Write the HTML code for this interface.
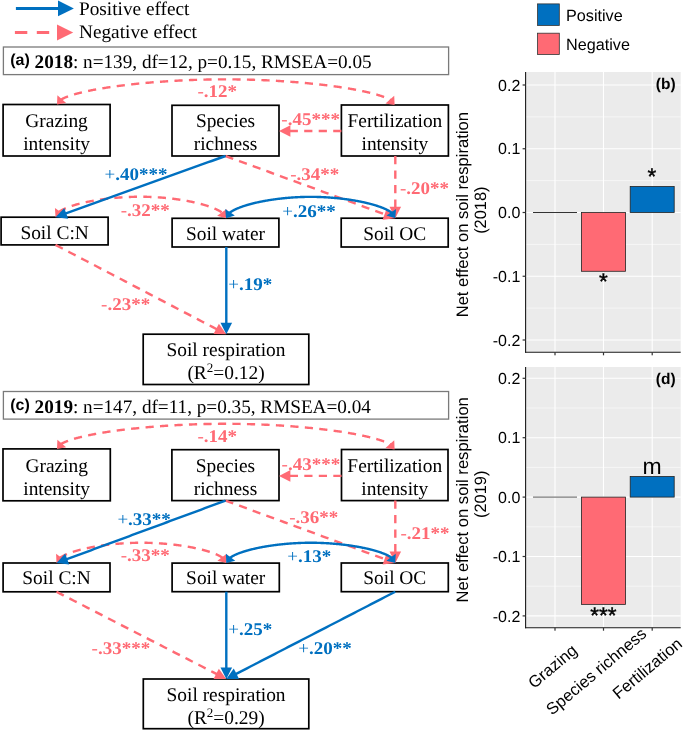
<!DOCTYPE html>
<html><head><meta charset="utf-8"><style>
html,body{margin:0;padding:0;background:#fff;}
svg{display:block;will-change:transform;} svg text{text-rendering:geometricPrecision;}

</style></head><body>
<svg width="685" height="730" viewBox="0 0 685 730">
<rect width="685" height="730" fill="#fff"/>
<line x1="15.9" y1="8.5" x2="59" y2="8.5" stroke="#0070C0" stroke-width="3.2"/>
<polygon points="73.9,8.4 58,0.5 58,16.3" fill="#0070C0"/>
<line x1="14.9" y1="32.55" x2="57.5" y2="32.55" stroke="#FF6A74" stroke-width="3.1" stroke-dasharray="12.4 9.5"/>
<polygon points="73.2,32.5 57,24.6 57,40.6" fill="#FF6A74"/>
<text x="79" y="14.6" font-family="Liberation Serif" font-size="19.3" fill="#000">Positive effect</text>
<text x="79" y="37.8" font-family="Liberation Serif" font-size="19.3" fill="#000">Negative effect</text>
<rect x="3.4" y="47" width="445.2" height="27.6" fill="#fff" stroke="#7a7a7a" stroke-width="1.3"/>
<text x="10.2" y="65" font-family="Liberation Sans" font-weight="bold" font-size="16" fill="#000">(a)</text>
<text x="34.6" y="67.6" font-family="Liberation Serif" font-size="19.2" fill="#000"><tspan font-weight="bold">2018</tspan>: n=139, df=12, p=0.15, RMSEA=0.05</text>
<rect x="3.1" y="104.5" width="107" height="51.5" fill="#fff" stroke="#000" stroke-width="1.7"/>
<rect x="172" y="105.3" width="107" height="50.7" fill="#fff" stroke="#000" stroke-width="1.7"/>
<rect x="341.4" y="105" width="107" height="51" fill="#fff" stroke="#000" stroke-width="1.7"/>
<rect x="1.1" y="217.2" width="107" height="27.7" fill="#fff" stroke="#000" stroke-width="1.7"/>
<rect x="172.1" y="218.3" width="106.8" height="28.7" fill="#fff" stroke="#000" stroke-width="1.7"/>
<rect x="341.2" y="218.2" width="107" height="28.8" fill="#fff" stroke="#000" stroke-width="1.7"/>
<rect x="143.2" y="334.2" width="165.6" height="50.3" fill="#fff" stroke="#000" stroke-width="1.7"/>
<path d="M60.63 99.87 L60.83 99.75 L61.13 99.56 L61.45 99.37 L61.78 99.19 L62.12 99 L62.47 98.82 L62.83 98.63 L63.2 98.44 L63.58 98.26 L63.97 98.07 L64.37 97.89 L64.79 97.7 L65.21 97.52 L65.64 97.34 L66.09 97.15 L66.54 96.97 L67.01 96.79 L67.49 96.61 L67.97 96.43 L68.47 96.24 L68.97 96.06 L69.49 95.88 L70.01 95.7 L70.55 95.52 L71.09 95.35 L71.65 95.17 L72.21 94.99 L72.78 94.81 L73.37 94.64 L73.96 94.46 L74.56 94.28 L75.17 94.11 L75.79 93.94 L76.42 93.76 L77.06 93.59 L77.7 93.42 L78.36 93.24 L79.03 93.07 L79.7 92.9 L80.38 92.73 L81.07 92.56 L81.77 92.39 L82.48 92.22 L83.2 92.06 L83.92 91.89 L84.66 91.72 L85.4 91.56 L86.15 91.39 L86.91 91.23 L87.67 91.06 L88.45 90.9 L89.23 90.74 L90.02 90.58 L90.82 90.42 L91.62 90.26 L92.44 90.1 L93.26 89.94 L94.09 89.78 L94.92 89.62 L95.77 89.47 L96.62 89.31 L97.48 89.16 L98.34 89.01 L99.21 88.85 L100.1 88.7 L100.98 88.55 L101.88 88.4 L102.78 88.25 L103.69 88.1 L104.6 87.96 L105.52 87.81 L106.45 87.66 L107.38 87.52 L108.33 87.38 L109.27 87.23 L110.23 87.09 L111.19 86.95 L112.16 86.81 L113.13 86.67 L114.11 86.53 L115.09 86.4 L116.08 86.26 L117.08 86.13 L118.09 85.99 L119.09 85.86 L120.11 85.73 L121.13 85.6 L122.16 85.47 L123.19 85.34 L124.23 85.21 L125.27 85.09 L126.32 84.96 L127.37 84.84 L128.43 84.72 L129.49 84.59 L130.56 84.47 L131.64 84.35 L132.72 84.24 L133.8 84.12 L134.89 84 L135.99 83.89 L137.08 83.77 L138.19 83.66 L139.3 83.55 L140.41 83.44 L141.53 83.33 L142.65 83.22 L143.77 83.12 L144.9 83.01 L146.04 82.91 L147.18 82.81 L148.32 82.71 L149.47 82.61 L150.62 82.51 L151.77 82.41 L152.93 82.32 L154.09 82.22 L155.26 82.13 L156.43 82.04 L157.6 81.95 L158.78 81.86 L159.96 81.77 L161.14 81.68 L162.33 81.6 L163.52 81.51 L164.71 81.43 L165.91 81.35 L167.11 81.27 L168.31 81.2 L169.52 81.12 L170.73 81.04 L171.94 80.97 L173.15 80.9 L174.37 80.83 L175.59 80.76 L176.81 80.69 L178.04 80.63 L179.27 80.56 L180.49 80.5 L181.73 80.44 L182.96 80.38 L184.2 80.32 L185.44 80.27 L186.68 80.21 L187.92 80.16 L189.16 80.11 L190.41 80.06 L191.66 80.01 L192.91 79.96 L194.16 79.92 L195.41 79.87 L196.67 79.83 L197.92 79.79 L199.18 79.75 L200.44 79.71 L201.7 79.68 L202.96 79.65 L204.22 79.61 L205.49 79.59 L206.75 79.56 L208.02 79.53 L209.28 79.51 L210.55 79.48 L211.82 79.46 L213.09 79.44 L214.36 79.43 L215.63 79.41 L216.9 79.4 L218.17 79.38 L219.44 79.37 L220.71 79.36 L221.98 79.36 L223.26 79.35 L224.53 79.35 L225.8 79.35 L227.07 79.35 L228.34 79.35 L229.62 79.36 L230.89 79.37 L232.16 79.37 L233.43 79.38 L234.7 79.4 L235.97 79.41 L237.24 79.43 L238.51 79.45 L239.78 79.47 L241.05 79.49 L242.32 79.51 L243.58 79.54 L244.85 79.57 L246.11 79.59 L247.38 79.63 L248.64 79.66 L249.9 79.69 L251.16 79.73 L252.42 79.77 L253.68 79.81 L254.93 79.85 L256.19 79.89 L257.44 79.94 L258.69 79.98 L259.94 80.03 L261.19 80.08 L262.44 80.13 L263.68 80.19 L264.92 80.24 L266.16 80.3 L267.4 80.36 L268.64 80.42 L269.87 80.48 L271.11 80.54 L272.33 80.61 L273.56 80.67 L274.79 80.74 L276.01 80.81 L277.23 80.88 L278.45 80.96 L279.66 81.03 L280.87 81.11 L282.08 81.18 L283.29 81.26 L284.49 81.34 L285.69 81.43 L286.89 81.51 L288.08 81.59 L289.27 81.68 L290.46 81.77 L291.64 81.86 L292.82 81.95 L294 82.04 L295.17 82.13 L296.34 82.23 L297.51 82.32 L298.67 82.42 L299.83 82.52 L300.98 82.62 L302.13 82.72 L303.28 82.82 L304.42 82.93 L305.56 83.03 L306.7 83.14 L307.83 83.25 L308.95 83.36 L310.07 83.47 L311.19 83.58 L312.3 83.7 L313.41 83.81 L314.52 83.93 L315.61 84.04 L316.71 84.16 L317.8 84.28 L318.88 84.4 L319.96 84.52 L321.04 84.65 L322.11 84.77 L323.17 84.9 L324.23 85.02 L325.28 85.15 L326.33 85.28 L327.37 85.41 L328.41 85.54 L329.44 85.67 L330.47 85.81 L331.49 85.94 L332.51 86.08 L333.51 86.21 L334.52 86.35 L335.52 86.49 L336.51 86.63 L337.49 86.77 L338.47 86.91 L339.44 87.05 L340.41 87.2 L341.37 87.34 L342.33 87.49 L343.27 87.63 L344.22 87.78 L345.15 87.93 L346.08 88.08 L347 88.23 L347.91 88.38 L348.82 88.53 L349.72 88.68 L350.62 88.84 L351.5 88.99 L352.39 89.15 L353.26 89.3 L354.12 89.46 L354.98 89.62 L355.83 89.78 L356.68 89.94 L357.51 90.1 L358.34 90.26 L359.16 90.42 L359.98 90.58 L360.78 90.75 L361.58 90.91 L362.37 91.08 L363.15 91.24 L363.93 91.41 L364.69 91.57 L365.45 91.74 L366.2 91.91 L366.94 92.08 L367.68 92.25 L368.4 92.42 L369.12 92.59 L369.83 92.76 L370.53 92.94 L371.22 93.11 L371.9 93.28 L372.57 93.46 L373.24 93.63 L373.9 93.81 L374.54 93.98 L375.18 94.16 L375.81 94.34 L376.43 94.51 L377.04 94.69 L377.64 94.87 L378.23 95.05 L378.82 95.23 L379.39 95.41 L379.95 95.59 L380.51 95.77 L381.05 95.95 L381.59 96.13 L382.11 96.32 L382.63 96.5 L383.13 96.68 L383.63 96.87 L384.11 97.05 L384.59 97.23 L385.06 97.42 L385.51 97.6 L385.96 97.79 L386.39 97.97 L386.81 98.16 L387.23 98.35 L387.63 98.53 L388.02 98.72 L388.4 98.91 L388.77 99.1 L389.13 99.28 L389.48 99.47 L389.82 99.66 L390.15 99.85 L390.47 100.04 L390.77 100.23 L390.98 100.36" fill="none" stroke="#FF6A74" stroke-width="2.4" stroke-dasharray="8.2 6.3" stroke-dashoffset="0"/>
<polygon points="394.6,105 385.5,103.39 394.23,95.76" fill="#FF6A74"/>
<polygon points="57,104.5 57.4,95.26 66.11,102.92" fill="#FF6A74"/>
<path d="M341.4 131 L340.13 131 L338.85 131 L337.58 131 L336.31 131 L335.03 131 L333.76 131 L332.49 131 L331.21 131 L329.94 131 L328.67 131 L327.39 131 L326.12 131 L324.84 131 L323.57 131 L322.3 131 L321.02 131 L319.75 131 L318.48 131 L317.2 131 L315.93 131 L314.66 131 L313.38 131 L312.11 131 L310.84 131 L309.56 131 L308.29 131 L307.02 131 L305.74 131 L304.47 131 L303.2 131 L301.92 131 L300.65 131 L299.38 131 L298.1 131 L296.83 131 L295.56 131 L294.28 131 L293.01 131 L291.73 131 L290.46 131 L289.19 131 L288.69 131" fill="none" stroke="#FF6A74" stroke-width="2.4" stroke-dasharray="8.2 6.3" stroke-dashoffset="0"/>
<polygon points="279,131 290.4,125.2 290.4,136.8" fill="#FF6A74"/>
<path d="M225.5 156 L228.97 157.27 L232.43 158.54 L235.9 159.81 L239.36 161.08 L242.83 162.35 L246.29 163.62 L249.76 164.89 L253.22 166.16 L256.69 167.42 L260.15 168.69 L263.62 169.96 L267.08 171.23 L270.55 172.5 L274.01 173.77 L277.48 175.04 L280.94 176.31 L284.41 177.58 L287.88 178.85 L291.34 180.12 L294.81 181.39 L298.27 182.66 L301.74 183.93 L305.2 185.2 L308.67 186.47 L312.13 187.73 L315.6 189 L319.06 190.27 L322.53 191.54 L325.99 192.81 L329.46 194.08 L332.92 195.35 L336.39 196.62 L339.86 197.89 L343.32 199.16 L346.79 200.43 L350.25 201.7 L353.72 202.97 L357.18 204.24 L360.65 205.51 L364.11 206.78 L367.58 208.04 L371.04 209.31 L374.51 210.58 L377.97 211.85 L381.44 213.12 L384.9 214.39 L386.2 214.87" fill="none" stroke="#FF6A74" stroke-width="2.4" stroke-dasharray="8.2 6.3" stroke-dashoffset="0"/>
<polygon points="395.3,218.2 382.6,219.72 386.59,208.83" fill="#FF6A74"/>
<path d="M395.3 156 L395.3 157.27 L395.3 158.54 L395.3 159.81 L395.3 161.08 L395.3 162.35 L395.3 163.62 L395.3 164.89 L395.3 166.16 L395.3 167.42 L395.3 168.69 L395.3 169.96 L395.3 171.23 L395.3 172.5 L395.3 173.77 L395.3 175.04 L395.3 176.31 L395.3 177.58 L395.3 178.85 L395.3 180.12 L395.3 181.39 L395.3 182.66 L395.3 183.93 L395.3 185.2 L395.3 186.47 L395.3 187.73 L395.3 189 L395.3 190.27 L395.3 191.54 L395.3 192.81 L395.3 194.08 L395.3 195.35 L395.3 196.62 L395.3 197.89 L395.3 199.16 L395.3 200.43 L395.3 201.7 L395.3 202.97 L395.3 204.24 L395.3 205.51 L395.3 206.78 L395.3 208.04 L395.3 208.51" fill="none" stroke="#FF6A74" stroke-width="2.4" stroke-dasharray="8.2 6.3" stroke-dashoffset="0"/>
<polygon points="395.3,218.2 389.5,206.8 401.1,206.8" fill="#FF6A74"/>
<path d="M58.66 212.19 L58.82 212.06 L59.02 211.91 L59.22 211.76 L59.43 211.61 L59.65 211.46 L59.87 211.31 L60.09 211.16 L60.32 211.01 L60.56 210.86 L60.8 210.71 L61.04 210.57 L61.29 210.42 L61.55 210.27 L61.81 210.12 L62.07 209.98 L62.34 209.83 L62.62 209.68 L62.9 209.54 L63.18 209.39 L63.47 209.25 L63.77 209.11 L64.06 208.96 L64.37 208.82 L64.68 208.68 L64.99 208.53 L65.31 208.39 L65.63 208.25 L65.96 208.11 L66.29 207.97 L66.62 207.83 L66.96 207.69 L67.31 207.55 L67.66 207.41 L68.01 207.28 L68.37 207.14 L68.73 207 L69.1 206.87 L69.47 206.73 L69.84 206.6 L70.22 206.46 L70.6 206.33 L70.99 206.2 L71.38 206.07 L71.78 205.93 L72.18 205.8 L72.58 205.67 L72.99 205.54 L73.4 205.41 L73.81 205.29 L74.23 205.16 L74.65 205.03 L75.08 204.9 L75.51 204.78 L75.94 204.65 L76.38 204.53 L76.82 204.41 L77.26 204.28 L77.71 204.16 L78.16 204.04 L78.62 203.92 L79.08 203.8 L79.54 203.68 L80.01 203.56 L80.47 203.44 L80.95 203.33 L81.42 203.21 L81.9 203.09 L82.38 202.98 L82.87 202.87 L83.36 202.75 L83.85 202.64 L84.34 202.53 L84.84 202.42 L85.34 202.31 L85.84 202.2 L86.35 202.09 L86.86 201.99 L87.37 201.88 L87.89 201.77 L88.41 201.67 L88.93 201.57 L89.45 201.46 L89.98 201.36 L90.51 201.26 L91.04 201.16 L91.57 201.06 L92.11 200.96 L92.65 200.87 L93.19 200.77 L93.74 200.67 L94.29 200.58 L94.84 200.49 L95.39 200.39 L95.95 200.3 L96.5 200.21 L97.06 200.12 L97.62 200.03 L98.19 199.95 L98.75 199.86 L99.32 199.77 L99.89 199.69 L100.47 199.61 L101.04 199.52 L101.62 199.44 L102.2 199.36 L102.78 199.28 L103.36 199.21 L103.95 199.13 L104.54 199.05 L105.12 198.98 L105.71 198.9 L106.31 198.83 L106.9 198.76 L107.5 198.69 L108.1 198.62 L108.7 198.55 L109.3 198.49 L109.9 198.42 L110.5 198.35 L111.11 198.29 L111.72 198.23 L112.33 198.17 L112.94 198.11 L113.55 198.05 L114.16 197.99 L114.78 197.93 L115.39 197.88 L116.01 197.83 L116.63 197.77 L117.25 197.72 L117.87 197.67 L118.49 197.62 L119.11 197.57 L119.74 197.53 L120.36 197.48 L120.99 197.44 L121.62 197.4 L122.25 197.35 L122.88 197.31 L123.51 197.28 L124.14 197.24 L124.77 197.2 L125.4 197.17 L126.04 197.13 L126.67 197.1 L127.31 197.07 L127.94 197.04 L128.58 197.01 L129.21 196.99 L129.85 196.96 L130.49 196.94 L131.13 196.92 L131.77 196.89 L132.41 196.87 L133.05 196.86 L133.69 196.84 L134.33 196.82 L134.97 196.81 L135.61 196.8 L136.25 196.79 L136.9 196.78 L137.54 196.77 L138.18 196.76 L138.82 196.76 L139.46 196.75 L140.11 196.75 L140.75 196.75 L141.39 196.75 L142.04 196.75 L142.68 196.76 L143.32 196.76 L143.96 196.77 L144.6 196.78 L145.25 196.79 L145.89 196.8 L146.53 196.82 L147.17 196.83 L147.81 196.85 L148.45 196.87 L149.09 196.89 L149.73 196.91 L150.37 196.93 L151.01 196.96 L151.65 196.98 L152.29 197.01 L152.92 197.04 L153.56 197.07 L154.19 197.11 L154.83 197.14 L155.46 197.17 L156.1 197.21 L156.73 197.25 L157.36 197.29 L157.99 197.33 L158.62 197.37 L159.25 197.42 L159.88 197.46 L160.51 197.51 L161.14 197.56 L161.76 197.61 L162.39 197.66 L163.01 197.71 L163.63 197.77 L164.25 197.82 L164.87 197.88 L165.49 197.94 L166.11 198 L166.72 198.06 L167.34 198.12 L167.95 198.18 L168.56 198.25 L169.17 198.31 L169.78 198.38 L170.39 198.45 L171 198.52 L171.6 198.59 L172.2 198.66 L172.8 198.73 L173.4 198.81 L174 198.88 L174.6 198.96 L175.19 199.04 L175.79 199.12 L176.38 199.2 L176.96 199.28 L177.55 199.36 L178.14 199.45 L178.72 199.53 L179.3 199.62 L179.88 199.7 L180.46 199.79 L181.03 199.88 L181.61 199.97 L182.18 200.07 L182.75 200.16 L183.31 200.25 L183.88 200.35 L184.44 200.44 L185 200.54 L185.55 200.64 L186.11 200.74 L186.66 200.84 L187.21 200.94 L187.76 201.04 L188.31 201.14 L188.85 201.25 L189.39 201.35 L189.93 201.46 L190.46 201.57 L190.99 201.68 L191.52 201.78 L192.05 201.89 L192.57 202 L193.09 202.12 L193.61 202.23 L194.13 202.34 L194.64 202.46 L195.15 202.57 L195.66 202.69 L196.16 202.81 L196.66 202.92 L197.16 203.04 L197.65 203.16 L198.14 203.28 L198.63 203.4 L199.12 203.53 L199.6 203.65 L200.08 203.77 L200.55 203.9 L201.03 204.02 L201.49 204.15 L201.96 204.28 L202.42 204.4 L202.88 204.53 L203.34 204.66 L203.79 204.79 L204.24 204.92 L204.68 205.05 L205.12 205.18 L205.56 205.32 L205.99 205.45 L206.42 205.58 L206.85 205.72 L207.27 205.85 L207.69 205.99 L208.1 206.12 L208.51 206.26 L208.92 206.4 L209.32 206.54 L209.72 206.68 L210.12 206.81 L210.51 206.95 L210.9 207.1 L211.28 207.24 L211.66 207.38 L212.03 207.52 L212.4 207.66 L212.77 207.81 L213.13 207.95 L213.49 208.09 L213.84 208.24 L214.19 208.38 L214.54 208.53 L214.88 208.68 L215.21 208.82 L215.54 208.97 L215.87 209.12 L216.19 209.27 L216.51 209.41 L216.82 209.56 L217.13 209.71 L217.44 209.86 L217.73 210.01 L218.03 210.16 L218.32 210.31 L218.6 210.47 L218.88 210.62 L219.16 210.77 L219.43 210.92 L219.69 211.07 L219.95 211.23 L220.21 211.38 L220.46 211.53 L220.7 211.69 L220.94 211.84 L221.18 212 L221.41 212.15 L221.63 212.31 L221.85 212.46 L222.07 212.62 L222.28 212.77 L222.48 212.93 L222.68 213.08 L222.87 213.24 L222.89 213.25" fill="none" stroke="#FF6A74" stroke-width="2.4" stroke-dasharray="8.2 6.3" stroke-dashoffset="0"/>
<polygon points="226,218.3 217.13,215.7 226.66,209.08" fill="#FF6A74"/>
<polygon points="55.5,217.2 54.95,207.97 64.4,214.7" fill="#FF6A74"/>
<path d="M229.06 213.22 L229.11 213.18 L229.3 213.02 L229.5 212.87 L229.7 212.71 L229.9 212.55 L230.12 212.4 L230.34 212.24 L230.56 212.08 L230.79 211.93 L231.02 211.77 L231.26 211.62 L231.5 211.47 L231.75 211.31 L232 211.16 L232.26 211.01 L232.53 210.85 L232.79 210.7 L233.07 210.55 L233.34 210.4 L233.63 210.25 L233.91 210.09 L234.21 209.94 L234.5 209.79 L234.81 209.64 L235.11 209.5 L235.42 209.35 L235.74 209.2 L236.06 209.05 L236.38 208.9 L236.71 208.76 L237.05 208.61 L237.38 208.47 L237.73 208.32 L238.07 208.18 L238.42 208.03 L238.78 207.89 L239.14 207.74 L239.5 207.6 L239.87 207.46 L240.24 207.32 L240.62 207.18 L241 207.04 L241.38 206.9 L241.77 206.76 L242.16 206.62 L242.56 206.48 L242.96 206.35 L243.36 206.21 L243.77 206.07 L244.18 205.94 L244.6 205.8 L245.02 205.67 L245.44 205.54 L245.87 205.4 L246.3 205.27 L246.73 205.14 L247.17 205.01 L247.61 204.88 L248.06 204.75 L248.5 204.62 L248.96 204.49 L249.41 204.37 L249.87 204.24 L250.33 204.12 L250.8 203.99 L251.27 203.87 L251.74 203.75 L252.21 203.62 L252.69 203.5 L253.17 203.38 L253.66 203.26 L254.15 203.14 L254.64 203.02 L255.13 202.91 L255.63 202.79 L256.13 202.68 L256.63 202.56 L257.14 202.45 L257.65 202.33 L258.16 202.22 L258.67 202.11 L259.19 202 L259.71 201.89 L260.24 201.78 L260.76 201.68 L261.29 201.57 L261.82 201.46 L262.35 201.36 L262.89 201.26 L263.43 201.15 L263.97 201.05 L264.51 200.95 L265.06 200.85 L265.61 200.75 L266.16 200.66 L266.71 200.56 L267.27 200.46 L267.83 200.37 L268.39 200.28 L268.95 200.18 L269.51 200.09 L270.08 200 L270.65 199.91 L271.22 199.83 L271.79 199.74 L272.37 199.65 L272.95 199.57 L273.53 199.49 L274.11 199.4 L274.69 199.32 L275.27 199.24 L275.86 199.16 L276.45 199.09 L277.04 199.01 L277.63 198.93 L278.23 198.86 L278.82 198.79 L279.42 198.71 L280.02 198.64 L280.62 198.57 L281.22 198.51 L281.82 198.44 L282.43 198.37 L283.03 198.31 L283.64 198.25 L284.25 198.19 L284.86 198.12 L285.47 198.07 L286.08 198.01 L286.7 197.95 L287.31 197.9 L287.93 197.84 L288.55 197.79 L289.17 197.74 L289.79 197.69 L290.41 197.64 L291.03 197.59 L291.65 197.55 L292.28 197.5 L292.9 197.46 L293.53 197.42 L294.15 197.38 L294.78 197.34 L295.41 197.3 L296.04 197.26 L296.67 197.23 L297.3 197.2 L297.93 197.16 L298.56 197.13 L299.2 197.11 L299.83 197.08 L300.46 197.05 L301.1 197.03 L301.73 197.01 L302.37 196.98 L303 196.96 L303.64 196.95 L304.27 196.93 L304.91 196.91 L305.55 196.9 L306.19 196.89 L306.82 196.88 L307.46 196.87 L308.1 196.86 L308.74 196.86 L309.37 196.85 L310.01 196.85 L310.65 196.85 L311.29 196.85 L311.93 196.85 L312.56 196.86 L313.2 196.86 L313.84 196.87 L314.48 196.88 L315.11 196.89 L315.75 196.9 L316.39 196.91 L317.03 196.93 L317.66 196.95 L318.3 196.96 L318.93 196.98 L319.57 197 L320.2 197.03 L320.84 197.05 L321.47 197.08 L322.1 197.1 L322.74 197.13 L323.37 197.16 L324 197.19 L324.63 197.23 L325.26 197.26 L325.89 197.3 L326.52 197.33 L327.15 197.37 L327.77 197.41 L328.4 197.45 L329.02 197.5 L329.65 197.54 L330.27 197.59 L330.89 197.63 L331.51 197.68 L332.13 197.73 L332.75 197.78 L333.37 197.83 L333.99 197.89 L334.6 197.94 L335.22 198 L335.83 198.05 L336.44 198.11 L337.05 198.17 L337.66 198.23 L338.27 198.3 L338.87 198.36 L339.48 198.43 L340.08 198.49 L340.68 198.56 L341.28 198.63 L341.88 198.7 L342.48 198.77 L343.07 198.84 L343.67 198.92 L344.26 198.99 L344.85 199.07 L345.44 199.14 L346.03 199.22 L346.61 199.3 L347.19 199.38 L347.77 199.46 L348.35 199.55 L348.93 199.63 L349.51 199.72 L350.08 199.8 L350.65 199.89 L351.22 199.98 L351.79 200.07 L352.35 200.16 L352.91 200.25 L353.47 200.34 L354.03 200.44 L354.59 200.53 L355.14 200.63 L355.69 200.72 L356.24 200.82 L356.79 200.92 L357.33 201.02 L357.87 201.12 L358.41 201.22 L358.95 201.32 L359.48 201.43 L360.01 201.53 L360.54 201.64 L361.06 201.75 L361.59 201.85 L362.11 201.96 L362.63 202.07 L363.14 202.18 L363.65 202.29 L364.16 202.4 L364.67 202.52 L365.17 202.63 L365.67 202.75 L366.17 202.86 L366.66 202.98 L367.15 203.1 L367.64 203.21 L368.13 203.33 L368.61 203.45 L369.09 203.57 L369.56 203.69 L370.03 203.82 L370.5 203.94 L370.97 204.06 L371.43 204.19 L371.89 204.31 L372.34 204.44 L372.8 204.57 L373.24 204.69 L373.69 204.82 L374.13 204.95 L374.57 205.08 L375 205.21 L375.43 205.34 L375.86 205.47 L376.28 205.61 L376.7 205.74 L377.12 205.87 L377.53 206.01 L377.94 206.14 L378.34 206.28 L378.74 206.42 L379.14 206.55 L379.53 206.69 L379.92 206.83 L380.3 206.97 L380.68 207.11 L381.06 207.25 L381.43 207.39 L381.8 207.53 L382.16 207.67 L382.52 207.81 L382.88 207.96 L383.23 208.1 L383.57 208.24 L383.92 208.39 L384.25 208.53 L384.59 208.68 L384.92 208.83 L385.24 208.97 L385.56 209.12 L385.88 209.27 L386.19 209.41 L386.49 209.56 L386.8 209.71 L387.09 209.86 L387.39 210.01 L387.67 210.16 L387.96 210.31 L388.23 210.46 L388.51 210.61 L388.77 210.77 L389.04 210.92 L389.3 211.07 L389.55 211.22 L389.8 211.38 L390.04 211.53 L390.28 211.69 L390.51 211.84 L390.74 211.99 L390.96 212.15 L391.18 212.3 L391.4 212.46 L391.6 212.62 L391.8 212.77 L392 212.93 L392.19 213.09 L392.24 213.12" fill="none" stroke="#0070C0" stroke-width="2.4"/>
<polygon points="395.3,218.2 386.45,215.51 396.04,208.98" fill="#0070C0"/>
<polygon points="226,218.3 225.25,209.08 234.84,215.6" fill="#0070C0"/>
<path d="M225.5 156 L222.03 157.25 L218.56 158.5 L215.09 159.75 L211.62 161 L208.15 162.24 L204.68 163.49 L201.21 164.74 L197.74 165.99 L194.28 167.24 L190.81 168.49 L187.34 169.74 L183.87 170.99 L180.4 172.24 L176.93 173.49 L173.46 174.73 L169.99 175.98 L166.52 177.23 L163.05 178.48 L159.58 179.73 L156.11 180.98 L152.64 182.23 L149.17 183.48 L145.7 184.73 L142.23 185.98 L138.77 187.22 L135.3 188.47 L131.83 189.72 L128.36 190.97 L124.89 192.22 L121.42 193.47 L117.95 194.72 L114.48 195.97 L111.01 197.22 L107.54 198.47 L104.07 199.71 L100.6 200.96 L97.13 202.21 L93.66 203.46 L90.19 204.71 L86.72 205.96 L83.26 207.21 L79.79 208.46 L76.32 209.71 L72.85 210.96 L69.38 212.2 L65.91 213.45 L64.62 213.92" fill="none" stroke="#0070C0" stroke-width="2.4"/>
<polygon points="55.5,217.2 64.26,207.88 68.19,218.8" fill="#0070C0"/>
<path d="M55.5 244.9 L58.99 246.72 L62.47 248.54 L65.96 250.37 L69.44 252.19 L72.93 254.01 L76.41 255.83 L79.9 257.66 L83.39 259.48 L86.87 261.3 L90.36 263.12 L93.84 264.95 L97.33 266.77 L100.81 268.59 L104.3 270.41 L107.79 272.24 L111.27 274.06 L114.76 275.88 L118.24 277.7 L121.73 279.53 L125.21 281.35 L128.7 283.17 L132.19 284.99 L135.67 286.82 L139.16 288.64 L142.64 290.46 L146.13 292.28 L149.61 294.11 L153.1 295.93 L156.59 297.75 L160.07 299.57 L163.56 301.4 L167.04 303.22 L170.53 305.04 L174.01 306.86 L177.5 308.69 L180.99 310.51 L184.47 312.33 L187.96 314.15 L191.44 315.98 L194.93 317.8 L198.41 319.62 L201.9 321.44 L205.39 323.27 L208.87 325.09 L212.36 326.91 L215.84 328.73 L217.71 329.71" fill="none" stroke="#FF6A74" stroke-width="2.4" stroke-dasharray="8.2 6.3" stroke-dashoffset="0"/>
<polygon points="226.3,334.2 213.51,334.06 218.88,323.78" fill="#FF6A74"/>
<path d="M226.3 247 L226.3 248.78 L226.3 250.56 L226.3 252.34 L226.3 254.12 L226.3 255.9 L226.3 257.68 L226.3 259.46 L226.3 261.24 L226.3 263.02 L226.3 264.8 L226.3 266.58 L226.3 268.36 L226.3 270.13 L226.3 271.91 L226.3 273.69 L226.3 275.47 L226.3 277.25 L226.3 279.03 L226.3 280.81 L226.3 282.59 L226.3 284.37 L226.3 286.15 L226.3 287.93 L226.3 289.71 L226.3 291.49 L226.3 293.27 L226.3 295.05 L226.3 296.83 L226.3 298.61 L226.3 300.39 L226.3 302.17 L226.3 303.95 L226.3 305.73 L226.3 307.51 L226.3 309.29 L226.3 311.07 L226.3 312.84 L226.3 314.62 L226.3 316.4 L226.3 318.18 L226.3 319.96 L226.3 321.74 L226.3 323.52 L226.3 324.51" fill="none" stroke="#0070C0" stroke-width="2.4"/>
<polygon points="226.3,334.2 220.5,322.8 232.1,322.8" fill="#0070C0"/>
<text x="56.6" y="126.7" font-family="Liberation Serif" font-size="19.4" text-anchor="middle" fill="#000">Grazing</text>
<text x="56.6" y="149.6" font-family="Liberation Serif" font-size="19.4" text-anchor="middle" fill="#000">intensity</text>
<text x="225.5" y="126.7" font-family="Liberation Serif" font-size="19.4" text-anchor="middle" fill="#000">Species</text>
<text x="225.5" y="149.6" font-family="Liberation Serif" font-size="19.4" text-anchor="middle" fill="#000">richness</text>
<text x="394.9" y="126.7" font-family="Liberation Serif" font-size="19.4" text-anchor="middle" fill="#000">Fertilization</text>
<text x="394.9" y="149.6" font-family="Liberation Serif" font-size="19.4" text-anchor="middle" fill="#000">intensity</text>
<text x="54.6" y="238.5" font-family="Liberation Serif" font-size="19.4" text-anchor="middle" fill="#000">Soil C:N</text>
<text x="225.5" y="239.5" font-family="Liberation Serif" font-size="19.4" text-anchor="middle" fill="#000">Soil water</text>
<text x="394.7" y="239.5" font-family="Liberation Serif" font-size="19.4" text-anchor="middle" fill="#000">Soil OC</text>
<text x="226" y="355.7" font-family="Liberation Serif" font-size="19.4" text-anchor="middle" fill="#000">Soil respiration</text>
<text x="226" y="379" font-family="Liberation Serif" font-size="19.4" text-anchor="middle" fill="#000">(R<tspan font-size="13" dy="-7">2</tspan><tspan dy="7">=0.12)</tspan></text>
<text transform="translate(197.4 97) scale(1 0.94)" font-family="Liberation Serif" font-size="19.0" fill="#FF6A74">-<tspan font-weight="bold">.12*</tspan></text>
<text transform="translate(281.3 124.9) scale(1 0.94)" font-family="Liberation Serif" font-size="19.0" fill="#FF6A74">-<tspan font-weight="bold">.45***</tspan></text>
<text transform="translate(104.6 179.9) scale(1 0.94)" font-family="Liberation Serif" font-size="19.0" fill="#0070C0">+<tspan font-weight="bold">.40***</tspan></text>
<text transform="translate(290.2 179.9) scale(1 0.94)" font-family="Liberation Serif" font-size="19.0" fill="#FF6A74">-<tspan font-weight="bold">.34**</tspan></text>
<text transform="translate(399.9 194) scale(1 0.94)" font-family="Liberation Serif" font-size="19.0" fill="#FF6A74">-<tspan font-weight="bold">.20**</tspan></text>
<text transform="translate(120.7 215.9) scale(1 0.94)" font-family="Liberation Serif" font-size="19.0" fill="#FF6A74">-<tspan font-weight="bold">.32**</tspan></text>
<text transform="translate(282.2 217) scale(1 0.94)" font-family="Liberation Serif" font-size="19.0" fill="#0070C0">+<tspan font-weight="bold">.26**</tspan></text>
<text transform="translate(101.1 309.5) scale(1 0.94)" font-family="Liberation Serif" font-size="19.0" fill="#FF6A74">-<tspan font-weight="bold">.23**</tspan></text>
<text transform="translate(228.2 289.9) scale(1 0.94)" font-family="Liberation Serif" font-size="19.0" fill="#0070C0">+<tspan font-weight="bold">.19*</tspan></text>
<rect x="3.4" y="391.5" width="445.2" height="27.6" fill="#fff" stroke="#7a7a7a" stroke-width="1.3"/>
<text x="10.2" y="410.2" font-family="Liberation Sans" font-weight="bold" font-size="16" fill="#000">(c)</text>
<text x="34.6" y="412.8" font-family="Liberation Serif" font-size="19.2" fill="#000"><tspan font-weight="bold">2019</tspan>: n=147, df=11, p=0.35, RMSEA=0.04</text>
<rect x="3" y="448.9" width="107.3" height="51.9" fill="#fff" stroke="#000" stroke-width="1.7"/>
<rect x="171.9" y="449.7" width="107.1" height="50.9" fill="#fff" stroke="#000" stroke-width="1.7"/>
<rect x="341.5" y="449.5" width="106.5" height="51.1" fill="#fff" stroke="#000" stroke-width="1.7"/>
<rect x="3.1" y="563" width="106.9" height="28.8" fill="#fff" stroke="#000" stroke-width="1.7"/>
<rect x="172.1" y="563.1" width="107.2" height="28.6" fill="#fff" stroke="#000" stroke-width="1.7"/>
<rect x="341.3" y="563" width="107" height="28.7" fill="#fff" stroke="#000" stroke-width="1.7"/>
<rect x="143.3" y="679" width="165.5" height="49.7" fill="#fff" stroke="#000" stroke-width="1.7"/>
<path d="M60.64 444.27 L60.83 444.15 L61.13 443.96 L61.45 443.78 L61.78 443.59 L62.12 443.4 L62.47 443.22 L62.83 443.03 L63.2 442.85 L63.58 442.66 L63.97 442.48 L64.37 442.29 L64.79 442.11 L65.21 441.92 L65.64 441.74 L66.09 441.56 L66.54 441.38 L67.01 441.19 L67.49 441.01 L67.97 440.83 L68.47 440.65 L68.97 440.47 L69.49 440.29 L70.01 440.11 L70.55 439.93 L71.09 439.75 L71.65 439.58 L72.21 439.4 L72.78 439.22 L73.37 439.05 L73.96 438.87 L74.56 438.69 L75.17 438.52 L75.79 438.35 L76.42 438.17 L77.06 438 L77.7 437.83 L78.36 437.65 L79.03 437.48 L79.7 437.31 L80.38 437.14 L81.07 436.97 L81.77 436.8 L82.48 436.64 L83.2 436.47 L83.92 436.3 L84.66 436.14 L85.4 435.97 L86.15 435.81 L86.91 435.64 L87.67 435.48 L88.45 435.32 L89.23 435.15 L90.02 434.99 L90.82 434.83 L91.62 434.67 L92.44 434.52 L93.26 434.36 L94.09 434.2 L94.92 434.04 L95.77 433.89 L96.62 433.73 L97.48 433.58 L98.34 433.43 L99.21 433.27 L100.1 433.12 L100.98 432.97 L101.88 432.82 L102.78 432.67 L103.69 432.53 L104.6 432.38 L105.52 432.23 L106.45 432.09 L107.38 431.94 L108.33 431.8 L109.27 431.66 L110.23 431.52 L111.19 431.38 L112.16 431.24 L113.13 431.1 L114.11 430.96 L115.09 430.82 L116.08 430.69 L117.08 430.56 L118.09 430.42 L119.09 430.29 L120.11 430.16 L121.13 430.03 L122.16 429.9 L123.19 429.77 L124.23 429.64 L125.27 429.52 L126.32 429.39 L127.37 429.27 L128.43 429.15 L129.49 429.03 L130.56 428.91 L131.64 428.79 L132.72 428.67 L133.8 428.55 L134.89 428.44 L135.99 428.32 L137.08 428.21 L138.19 428.1 L139.3 427.99 L140.41 427.88 L141.53 427.77 L142.65 427.66 L143.77 427.56 L144.9 427.45 L146.04 427.35 L147.18 427.25 L148.32 427.14 L149.47 427.05 L150.62 426.95 L151.77 426.85 L152.93 426.75 L154.09 426.66 L155.26 426.57 L156.43 426.48 L157.6 426.39 L158.78 426.3 L159.96 426.21 L161.14 426.12 L162.33 426.04 L163.52 425.96 L164.71 425.87 L165.91 425.79 L167.11 425.72 L168.31 425.64 L169.52 425.56 L170.73 425.49 L171.94 425.41 L173.15 425.34 L174.37 425.27 L175.59 425.2 L176.81 425.14 L178.04 425.07 L179.27 425.01 L180.49 424.95 L181.73 424.88 L182.96 424.83 L184.2 424.77 L185.44 424.71 L186.68 424.66 L187.92 424.6 L189.16 424.55 L190.41 424.5 L191.66 424.45 L192.91 424.41 L194.16 424.36 L195.41 424.32 L196.67 424.28 L197.92 424.24 L199.18 424.2 L200.44 424.16 L201.7 424.13 L202.96 424.1 L204.22 424.06 L205.49 424.03 L206.75 424.01 L208.02 423.98 L209.28 423.96 L210.55 423.93 L211.82 423.91 L213.09 423.89 L214.36 423.87 L215.63 423.86 L216.9 423.85 L218.17 423.83 L219.44 423.82 L220.71 423.81 L221.98 423.81 L223.26 423.8 L224.53 423.8 L225.8 423.8 L227.07 423.8 L228.34 423.8 L229.62 423.81 L230.89 423.82 L232.16 423.82 L233.43 423.84 L234.7 423.85 L235.97 423.86 L237.24 423.88 L238.51 423.9 L239.78 423.92 L241.05 423.94 L242.32 423.96 L243.58 423.99 L244.85 424.02 L246.11 424.05 L247.38 424.08 L248.64 424.11 L249.9 424.14 L251.16 424.18 L252.42 424.22 L253.68 424.26 L254.93 424.3 L256.19 424.34 L257.44 424.39 L258.69 424.44 L259.94 424.48 L261.19 424.54 L262.44 424.59 L263.68 424.64 L264.92 424.7 L266.16 424.75 L267.4 424.81 L268.64 424.87 L269.87 424.93 L271.11 425 L272.33 425.06 L273.56 425.13 L274.79 425.2 L276.01 425.27 L277.23 425.34 L278.45 425.41 L279.66 425.49 L280.87 425.56 L282.08 425.64 L283.29 425.72 L284.49 425.8 L285.69 425.88 L286.89 425.97 L288.08 426.05 L289.27 426.14 L290.46 426.23 L291.64 426.32 L292.82 426.41 L294 426.5 L295.17 426.59 L296.34 426.69 L297.51 426.78 L298.67 426.88 L299.83 426.98 L300.98 427.08 L302.13 427.18 L303.28 427.29 L304.42 427.39 L305.56 427.5 L306.7 427.6 L307.83 427.71 L308.95 427.82 L310.07 427.93 L311.19 428.05 L312.3 428.16 L313.41 428.28 L314.52 428.39 L315.61 428.51 L316.71 428.63 L317.8 428.75 L318.88 428.87 L319.96 428.99 L321.04 429.11 L322.11 429.24 L323.17 429.36 L324.23 429.49 L325.28 429.62 L326.33 429.75 L327.37 429.88 L328.41 430.01 L329.44 430.14 L330.47 430.28 L331.49 430.41 L332.51 430.55 L333.51 430.68 L334.52 430.82 L335.52 430.96 L336.51 431.1 L337.49 431.24 L338.47 431.38 L339.44 431.53 L340.41 431.67 L341.37 431.81 L342.33 431.96 L343.27 432.11 L344.22 432.26 L345.15 432.4 L346.08 432.55 L347 432.7 L347.91 432.86 L348.82 433.01 L349.72 433.16 L350.62 433.32 L351.5 433.47 L352.39 433.63 L353.26 433.78 L354.12 433.94 L354.98 434.1 L355.83 434.26 L356.68 434.42 L357.51 434.58 L358.34 434.74 L359.16 434.9 L359.98 435.07 L360.78 435.23 L361.58 435.39 L362.37 435.56 L363.15 435.72 L363.93 435.89 L364.69 436.06 L365.45 436.23 L366.2 436.4 L366.94 436.57 L367.68 436.74 L368.4 436.91 L369.12 437.08 L369.83 437.25 L370.53 437.42 L371.22 437.6 L371.9 437.77 L372.57 437.94 L373.24 438.12 L373.9 438.3 L374.54 438.47 L375.18 438.65 L375.81 438.83 L376.43 439 L377.04 439.18 L377.64 439.36 L378.23 439.54 L378.82 439.72 L379.39 439.9 L379.95 440.08 L380.51 440.26 L381.05 440.44 L381.59 440.63 L382.11 440.81 L382.63 440.99 L383.13 441.18 L383.63 441.36 L384.11 441.54 L384.59 441.73 L385.06 441.91 L385.51 442.1 L385.96 442.28 L386.39 442.47 L386.81 442.66 L387.23 442.84 L387.63 443.03 L388.02 443.22 L388.4 443.41 L388.77 443.59 L389.13 443.78 L389.48 443.97 L389.82 444.16 L390.15 444.35 L390.47 444.54 L390.77 444.73 L390.98 444.86" fill="none" stroke="#FF6A74" stroke-width="2.4" stroke-dasharray="8.2 6.3" stroke-dashoffset="0"/>
<polygon points="394.6,449.5 385.5,447.89 394.24,440.26" fill="#FF6A74"/>
<polygon points="57,448.9 57.4,439.66 66.11,447.32" fill="#FF6A74"/>
<path d="M341.5 475.9 L340.22 475.9 L338.95 475.9 L337.67 475.9 L336.4 475.9 L335.12 475.9 L333.85 475.9 L332.57 475.9 L331.3 475.9 L330.02 475.9 L328.74 475.9 L327.47 475.9 L326.19 475.9 L324.92 475.9 L323.64 475.9 L322.37 475.9 L321.09 475.9 L319.82 475.9 L318.54 475.9 L317.27 475.9 L315.99 475.9 L314.71 475.9 L313.44 475.9 L312.16 475.9 L310.89 475.9 L309.61 475.9 L308.34 475.9 L307.06 475.9 L305.79 475.9 L304.51 475.9 L303.23 475.9 L301.96 475.9 L300.68 475.9 L299.41 475.9 L298.13 475.9 L296.86 475.9 L295.58 475.9 L294.31 475.9 L293.03 475.9 L291.76 475.9 L290.48 475.9 L289.2 475.9 L288.69 475.9" fill="none" stroke="#FF6A74" stroke-width="2.4" stroke-dasharray="8.2 6.3" stroke-dashoffset="0"/>
<polygon points="279,475.9 290.4,470.1 290.4,481.7" fill="#FF6A74"/>
<path d="M225.5 500.6 L228.97 501.87 L232.43 503.15 L235.9 504.42 L239.36 505.69 L242.83 506.97 L246.29 508.24 L249.76 509.51 L253.22 510.79 L256.69 512.06 L260.15 513.33 L263.62 514.61 L267.08 515.88 L270.55 517.16 L274.01 518.43 L277.48 519.7 L280.94 520.98 L284.41 522.25 L287.88 523.52 L291.34 524.8 L294.81 526.07 L298.27 527.34 L301.74 528.62 L305.2 529.89 L308.67 531.16 L312.13 532.44 L315.6 533.71 L319.06 534.98 L322.53 536.26 L325.99 537.53 L329.46 538.8 L332.92 540.08 L336.39 541.35 L339.86 542.62 L343.32 543.9 L346.79 545.17 L350.25 546.44 L353.72 547.72 L357.18 548.99 L360.65 550.27 L364.11 551.54 L367.58 552.81 L371.04 554.09 L374.51 555.36 L377.97 556.63 L381.44 557.91 L384.9 559.18 L386.2 559.66" fill="none" stroke="#FF6A74" stroke-width="2.4" stroke-dasharray="8.2 6.3" stroke-dashoffset="0"/>
<polygon points="395.3,563 382.6,564.51 386.6,553.62" fill="#FF6A74"/>
<path d="M395.3 500.6 L395.3 501.87 L395.3 503.15 L395.3 504.42 L395.3 505.69 L395.3 506.97 L395.3 508.24 L395.3 509.51 L395.3 510.79 L395.3 512.06 L395.3 513.33 L395.3 514.61 L395.3 515.88 L395.3 517.16 L395.3 518.43 L395.3 519.7 L395.3 520.98 L395.3 522.25 L395.3 523.52 L395.3 524.8 L395.3 526.07 L395.3 527.34 L395.3 528.62 L395.3 529.89 L395.3 531.16 L395.3 532.44 L395.3 533.71 L395.3 534.98 L395.3 536.26 L395.3 537.53 L395.3 538.8 L395.3 540.08 L395.3 541.35 L395.3 542.62 L395.3 543.9 L395.3 545.17 L395.3 546.44 L395.3 547.72 L395.3 548.99 L395.3 550.27 L395.3 551.54 L395.3 552.81 L395.3 553.31" fill="none" stroke="#FF6A74" stroke-width="2.4" stroke-dasharray="8.2 6.3" stroke-dashoffset="0"/>
<polygon points="395.3,563 389.5,551.6 401.1,551.6" fill="#FF6A74"/>
<path d="M59.74 558.05 L59.81 558 L60.01 557.85 L60.21 557.7 L60.42 557.56 L60.63 557.41 L60.85 557.26 L61.07 557.11 L61.3 556.97 L61.53 556.82 L61.77 556.67 L62.02 556.53 L62.27 556.38 L62.52 556.24 L62.78 556.09 L63.04 555.95 L63.31 555.81 L63.59 555.66 L63.87 555.52 L64.15 555.38 L64.44 555.23 L64.73 555.09 L65.03 554.95 L65.33 554.81 L65.64 554.67 L65.95 554.53 L66.27 554.39 L66.59 554.25 L66.91 554.11 L67.24 553.97 L67.58 553.83 L67.92 553.69 L68.26 553.56 L68.61 553.42 L68.96 553.28 L69.32 553.15 L69.68 553.01 L70.04 552.88 L70.41 552.74 L70.78 552.61 L71.16 552.48 L71.54 552.35 L71.93 552.21 L72.32 552.08 L72.71 551.95 L73.11 551.82 L73.51 551.69 L73.91 551.56 L74.32 551.44 L74.74 551.31 L75.15 551.18 L75.57 551.06 L76 550.93 L76.43 550.8 L76.86 550.68 L77.29 550.56 L77.73 550.43 L78.18 550.31 L78.62 550.19 L79.07 550.07 L79.52 549.95 L79.98 549.83 L80.44 549.71 L80.9 549.59 L81.37 549.47 L81.84 549.36 L82.31 549.24 L82.79 549.13 L83.27 549.01 L83.75 548.9 L84.24 548.79 L84.73 548.67 L85.22 548.56 L85.72 548.45 L86.22 548.34 L86.72 548.23 L87.22 548.13 L87.73 548.02 L88.24 547.91 L88.76 547.81 L89.27 547.7 L89.79 547.6 L90.31 547.49 L90.84 547.39 L91.36 547.29 L91.89 547.19 L92.43 547.09 L92.96 546.99 L93.5 546.9 L94.04 546.8 L94.58 546.7 L95.13 546.61 L95.68 546.52 L96.23 546.42 L96.78 546.33 L97.33 546.24 L97.89 546.15 L98.45 546.06 L99.01 545.97 L99.58 545.89 L100.14 545.8 L100.71 545.72 L101.28 545.63 L101.86 545.55 L102.43 545.47 L103.01 545.39 L103.59 545.31 L104.17 545.23 L104.75 545.15 L105.33 545.08 L105.92 545 L106.51 544.93 L107.1 544.85 L107.69 544.78 L108.28 544.71 L108.88 544.64 L109.48 544.57 L110.08 544.5 L110.68 544.44 L111.28 544.37 L111.88 544.31 L112.49 544.24 L113.09 544.18 L113.7 544.12 L114.31 544.06 L114.92 544.01 L115.53 543.95 L116.15 543.89 L116.76 543.84 L117.38 543.78 L117.99 543.73 L118.61 543.68 L119.23 543.63 L119.85 543.58 L120.48 543.54 L121.1 543.49 L121.72 543.45 L122.35 543.4 L122.97 543.36 L123.6 543.32 L124.23 543.28 L124.86 543.24 L125.49 543.21 L126.12 543.17 L126.75 543.14 L127.38 543.11 L128.01 543.08 L128.64 543.05 L129.28 543.02 L129.91 542.99 L130.55 542.96 L131.18 542.94 L131.82 542.92 L132.46 542.9 L133.09 542.88 L133.73 542.86 L134.37 542.84 L135.01 542.83 L135.64 542.81 L136.28 542.8 L136.92 542.79 L137.56 542.78 L138.2 542.77 L138.84 542.76 L139.48 542.76 L140.12 542.75 L140.76 542.75 L141.4 542.75 L142.04 542.75 L142.68 542.75 L143.32 542.76 L143.96 542.76 L144.6 542.77 L145.24 542.78 L145.88 542.79 L146.52 542.8 L147.16 542.81 L147.79 542.83 L148.43 542.84 L149.07 542.86 L149.71 542.88 L150.34 542.9 L150.98 542.92 L151.62 542.94 L152.25 542.97 L152.89 542.99 L153.52 543.02 L154.16 543.05 L154.79 543.08 L155.42 543.11 L156.05 543.14 L156.68 543.18 L157.31 543.21 L157.94 543.25 L158.57 543.29 L159.2 543.33 L159.83 543.37 L160.45 543.41 L161.08 543.45 L161.7 543.5 L162.32 543.54 L162.95 543.59 L163.57 543.64 L164.19 543.69 L164.81 543.74 L165.42 543.79 L166.04 543.85 L166.65 543.9 L167.27 543.96 L167.88 544.02 L168.49 544.08 L169.1 544.14 L169.71 544.2 L170.31 544.26 L170.92 544.32 L171.52 544.39 L172.12 544.45 L172.72 544.52 L173.32 544.59 L173.92 544.66 L174.52 544.73 L175.11 544.8 L175.7 544.87 L176.29 544.94 L176.88 545.02 L177.47 545.1 L178.05 545.17 L178.63 545.25 L179.21 545.33 L179.79 545.41 L180.37 545.49 L180.94 545.57 L181.52 545.66 L182.09 545.74 L182.66 545.83 L183.22 545.91 L183.79 546 L184.35 546.09 L184.91 546.18 L185.47 546.27 L186.02 546.36 L186.57 546.45 L187.12 546.55 L187.67 546.64 L188.22 546.74 L188.76 546.83 L189.3 546.93 L189.84 547.03 L190.37 547.13 L190.91 547.23 L191.44 547.33 L191.96 547.43 L192.49 547.53 L193.01 547.64 L193.53 547.74 L194.04 547.85 L194.56 547.95 L195.07 548.06 L195.58 548.17 L196.08 548.28 L196.58 548.39 L197.08 548.5 L197.58 548.61 L198.07 548.72 L198.56 548.83 L199.05 548.95 L199.53 549.06 L200.01 549.18 L200.49 549.29 L200.96 549.41 L201.43 549.53 L201.9 549.64 L202.36 549.76 L202.82 549.88 L203.28 550 L203.73 550.12 L204.18 550.25 L204.62 550.37 L205.07 550.49 L205.51 550.62 L205.94 550.74 L206.37 550.87 L206.8 550.99 L207.23 551.12 L207.65 551.24 L208.06 551.37 L208.48 551.5 L208.89 551.63 L209.29 551.76 L209.69 551.89 L210.09 552.02 L210.48 552.15 L210.87 552.28 L211.26 552.42 L211.64 552.55 L212.02 552.68 L212.39 552.82 L212.76 552.95 L213.12 553.09 L213.48 553.22 L213.84 553.36 L214.19 553.5 L214.54 553.63 L214.88 553.77 L215.22 553.91 L215.56 554.05 L215.89 554.19 L216.21 554.33 L216.53 554.47 L216.85 554.61 L217.16 554.75 L217.47 554.89 L217.77 555.03 L218.07 555.17 L218.36 555.32 L218.65 555.46 L218.93 555.6 L219.21 555.75 L219.49 555.89 L219.76 556.03 L220.02 556.18 L220.28 556.33 L220.53 556.47 L220.78 556.62 L221.03 556.76 L221.27 556.91 L221.5 557.06 L221.73 557.2 L221.95 557.35 L222.17 557.5 L222.38 557.65 L222.59 557.8 L222.79 557.94 L222.99 558.09 L223.06 558.15" fill="none" stroke="#FF6A74" stroke-width="2.4" stroke-dasharray="8.2 6.3" stroke-dashoffset="0"/>
<polygon points="226.3,563.1 217.36,560.74 226.71,553.86" fill="#FF6A74"/>
<polygon points="56.5,563 56.1,553.76 65.44,560.65" fill="#FF6A74"/>
<path d="M229.53 558.14 L229.59 558.09 L229.79 557.94 L229.99 557.8 L230.2 557.65 L230.41 557.5 L230.63 557.35 L230.85 557.2 L231.08 557.06 L231.31 556.91 L231.55 556.76 L231.79 556.62 L232.04 556.47 L232.29 556.33 L232.55 556.18 L232.81 556.03 L233.08 555.89 L233.35 555.75 L233.63 555.6 L233.91 555.46 L234.2 555.32 L234.49 555.17 L234.79 555.03 L235.09 554.89 L235.4 554.75 L235.71 554.61 L236.02 554.47 L236.34 554.33 L236.66 554.19 L236.99 554.05 L237.33 553.91 L237.66 553.77 L238 553.63 L238.35 553.5 L238.7 553.36 L239.06 553.22 L239.41 553.09 L239.78 552.95 L240.14 552.82 L240.52 552.68 L240.89 552.55 L241.27 552.42 L241.65 552.28 L242.04 552.15 L242.43 552.02 L242.83 551.89 L243.23 551.76 L243.63 551.63 L244.04 551.5 L244.45 551.37 L244.87 551.24 L245.28 551.12 L245.71 550.99 L246.13 550.87 L246.56 550.74 L247 550.62 L247.43 550.49 L247.87 550.37 L248.32 550.25 L248.76 550.12 L249.22 550 L249.67 549.88 L250.13 549.76 L250.59 549.64 L251.05 549.53 L251.52 549.41 L251.99 549.29 L252.47 549.18 L252.95 549.06 L253.43 548.95 L253.91 548.83 L254.4 548.72 L254.89 548.61 L255.38 548.5 L255.88 548.39 L256.38 548.28 L256.88 548.17 L257.38 548.06 L257.89 547.95 L258.4 547.85 L258.92 547.74 L259.43 547.64 L259.95 547.53 L260.48 547.43 L261 547.33 L261.53 547.23 L262.06 547.13 L262.59 547.03 L263.13 546.93 L263.66 546.83 L264.2 546.74 L264.75 546.64 L265.29 546.55 L265.84 546.45 L266.39 546.36 L266.94 546.27 L267.5 546.18 L268.05 546.09 L268.61 546 L269.17 545.91 L269.74 545.83 L270.3 545.74 L270.87 545.66 L271.44 545.57 L272.01 545.49 L272.59 545.41 L273.16 545.33 L273.74 545.25 L274.32 545.17 L274.9 545.1 L275.49 545.02 L276.07 544.94 L276.66 544.87 L277.25 544.8 L277.84 544.73 L278.43 544.66 L279.03 544.59 L279.62 544.52 L280.22 544.45 L280.82 544.39 L281.42 544.32 L282.02 544.26 L282.63 544.2 L283.23 544.14 L283.84 544.08 L284.45 544.02 L285.06 543.96 L285.67 543.9 L286.28 543.85 L286.89 543.79 L287.5 543.74 L288.12 543.69 L288.74 543.64 L289.35 543.59 L289.97 543.54 L290.59 543.5 L291.21 543.45 L291.84 543.41 L292.46 543.37 L293.08 543.33 L293.71 543.29 L294.33 543.25 L294.96 543.21 L295.59 543.18 L296.22 543.14 L296.84 543.11 L297.47 543.08 L298.1 543.05 L298.74 543.02 L299.37 542.99 L300 542.97 L300.63 542.94 L301.26 542.92 L301.9 542.9 L302.53 542.88 L303.17 542.86 L303.8 542.84 L304.44 542.83 L305.07 542.81 L305.71 542.8 L306.34 542.79 L306.98 542.78 L307.62 542.77 L308.25 542.76 L308.89 542.76 L309.53 542.75 L310.16 542.75 L310.8 542.75 L311.44 542.75 L312.07 542.75 L312.71 542.76 L313.35 542.76 L313.98 542.77 L314.62 542.78 L315.26 542.79 L315.89 542.8 L316.53 542.81 L317.16 542.83 L317.8 542.84 L318.43 542.86 L319.07 542.88 L319.7 542.9 L320.34 542.92 L320.97 542.94 L321.6 542.96 L322.23 542.99 L322.86 543.02 L323.5 543.05 L324.13 543.08 L324.76 543.11 L325.38 543.14 L326.01 543.17 L326.64 543.21 L327.27 543.24 L327.89 543.28 L328.52 543.32 L329.14 543.36 L329.76 543.4 L330.39 543.45 L331.01 543.49 L331.63 543.54 L332.25 543.58 L332.86 543.63 L333.48 543.68 L334.1 543.73 L334.71 543.78 L335.32 543.84 L335.93 543.89 L336.54 543.95 L337.15 544.01 L337.76 544.06 L338.37 544.12 L338.97 544.18 L339.58 544.24 L340.18 544.31 L340.78 544.37 L341.38 544.44 L341.98 544.5 L342.57 544.57 L343.17 544.64 L343.76 544.71 L344.35 544.78 L344.94 544.85 L345.53 544.93 L346.11 545 L346.7 545.08 L347.28 545.15 L347.86 545.23 L348.44 545.31 L349.01 545.39 L349.59 545.47 L350.16 545.55 L350.73 545.63 L351.3 545.72 L351.86 545.8 L352.43 545.89 L352.99 545.97 L353.55 546.06 L354.1 546.15 L354.66 546.24 L355.21 546.33 L355.76 546.42 L356.31 546.52 L356.85 546.61 L357.4 546.7 L357.94 546.8 L358.47 546.9 L359.01 546.99 L359.54 547.09 L360.07 547.19 L360.6 547.29 L361.12 547.39 L361.65 547.49 L362.17 547.6 L362.68 547.7 L363.2 547.81 L363.71 547.91 L364.22 548.02 L364.72 548.13 L365.22 548.23 L365.72 548.34 L366.22 548.45 L366.71 548.56 L367.2 548.67 L367.69 548.79 L368.17 548.9 L368.65 549.01 L369.13 549.13 L369.61 549.24 L370.08 549.36 L370.55 549.47 L371.01 549.59 L371.47 549.71 L371.93 549.83 L372.38 549.95 L372.84 550.07 L373.28 550.19 L373.73 550.31 L374.17 550.43 L374.6 550.56 L375.04 550.68 L375.47 550.8 L375.89 550.93 L376.32 551.06 L376.73 551.18 L377.15 551.31 L377.56 551.44 L377.97 551.56 L378.37 551.69 L378.77 551.82 L379.17 551.95 L379.56 552.08 L379.95 552.21 L380.33 552.35 L380.71 552.48 L381.08 552.61 L381.46 552.74 L381.82 552.88 L382.19 553.01 L382.54 553.15 L382.9 553.28 L383.25 553.42 L383.6 553.56 L383.94 553.69 L384.27 553.83 L384.61 553.97 L384.94 554.11 L385.26 554.25 L385.58 554.39 L385.89 554.53 L386.2 554.67 L386.51 554.81 L386.81 554.95 L387.11 555.09 L387.4 555.23 L387.69 555.38 L387.97 555.52 L388.25 555.66 L388.52 555.81 L388.79 555.95 L389.05 556.09 L389.31 556.24 L389.56 556.38 L389.81 556.53 L390.05 556.67 L390.29 556.82 L390.52 556.97 L390.75 557.11 L390.97 557.26 L391.19 557.41 L391.4 557.56 L391.61 557.7 L391.81 557.85 L392.01 558 L392.07 558.05" fill="none" stroke="#0070C0" stroke-width="2.4"/>
<polygon points="395.3,563 386.36,560.63 395.71,553.76" fill="#0070C0"/>
<polygon points="226.3,563.1 225.88,553.86 235.23,560.72" fill="#0070C0"/>
<path d="M225.5 500.6 L222.05 501.87 L218.6 503.15 L215.15 504.42 L211.7 505.69 L208.26 506.97 L204.81 508.24 L201.36 509.51 L197.91 510.79 L194.46 512.06 L191.01 513.33 L187.56 514.61 L184.11 515.88 L180.66 517.16 L177.21 518.43 L173.77 519.7 L170.32 520.98 L166.87 522.25 L163.42 523.52 L159.97 524.8 L156.52 526.07 L153.07 527.34 L149.62 528.62 L146.17 529.89 L142.72 531.16 L139.28 532.44 L135.83 533.71 L132.38 534.98 L128.93 536.26 L125.48 537.53 L122.03 538.8 L118.58 540.08 L115.13 541.35 L111.68 542.62 L108.23 543.9 L104.79 545.17 L101.34 546.44 L97.89 547.72 L94.44 548.99 L90.99 550.27 L87.54 551.54 L84.09 552.81 L80.64 554.09 L77.19 555.36 L73.74 556.63 L70.3 557.91 L66.85 559.18 L65.59 559.64" fill="none" stroke="#0070C0" stroke-width="2.4"/>
<polygon points="56.5,563 65.19,553.61 69.2,564.49" fill="#0070C0"/>
<path d="M56.5 591.8 L59.97 593.58 L63.43 595.36 L66.9 597.14 L70.36 598.92 L73.83 600.7 L77.29 602.48 L80.76 604.26 L84.22 606.04 L87.69 607.82 L91.15 609.6 L94.62 611.38 L98.08 613.16 L101.55 614.93 L105.01 616.71 L108.48 618.49 L111.94 620.27 L115.41 622.05 L118.88 623.83 L122.34 625.61 L125.81 627.39 L129.27 629.17 L132.74 630.95 L136.2 632.73 L139.67 634.51 L143.13 636.29 L146.6 638.07 L150.06 639.85 L153.53 641.63 L156.99 643.41 L160.46 645.19 L163.92 646.97 L167.39 648.75 L170.86 650.53 L174.32 652.31 L177.79 654.09 L181.25 655.87 L184.72 657.64 L188.18 659.42 L191.65 661.2 L195.11 662.98 L198.58 664.76 L202.04 666.54 L205.51 668.32 L208.97 670.1 L212.44 671.88 L215.9 673.66 L217.68 674.57" fill="none" stroke="#FF6A74" stroke-width="2.4" stroke-dasharray="8.2 6.3" stroke-dashoffset="0"/>
<polygon points="226.3,679 213.51,678.95 218.81,668.63" fill="#FF6A74"/>
<path d="M226.3 591.7 L226.3 593.48 L226.3 595.26 L226.3 597.04 L226.3 598.83 L226.3 600.61 L226.3 602.39 L226.3 604.17 L226.3 605.95 L226.3 607.73 L226.3 609.52 L226.3 611.3 L226.3 613.08 L226.3 614.86 L226.3 616.64 L226.3 618.42 L226.3 620.21 L226.3 621.99 L226.3 623.77 L226.3 625.55 L226.3 627.33 L226.3 629.11 L226.3 630.9 L226.3 632.68 L226.3 634.46 L226.3 636.24 L226.3 638.02 L226.3 639.8 L226.3 641.59 L226.3 643.37 L226.3 645.15 L226.3 646.93 L226.3 648.71 L226.3 650.49 L226.3 652.28 L226.3 654.06 L226.3 655.84 L226.3 657.62 L226.3 659.4 L226.3 661.18 L226.3 662.97 L226.3 664.75 L226.3 666.53 L226.3 668.31 L226.3 669.31" fill="none" stroke="#0070C0" stroke-width="2.4"/>
<polygon points="226.3,679 220.5,667.6 232.1,667.6" fill="#0070C0"/>
<path d="M395.3 591.7 L391.85 593.48 L388.4 595.26 L384.95 597.04 L381.5 598.83 L378.06 600.61 L374.61 602.39 L371.16 604.17 L367.71 605.95 L364.26 607.73 L360.81 609.52 L357.36 611.3 L353.91 613.08 L350.46 614.86 L347.01 616.64 L343.57 618.42 L340.12 620.21 L336.67 621.99 L333.22 623.77 L329.77 625.55 L326.32 627.33 L322.87 629.11 L319.42 630.9 L315.97 632.68 L312.52 634.46 L309.08 636.24 L305.63 638.02 L302.18 639.8 L298.73 641.59 L295.28 643.37 L291.83 645.15 L288.38 646.93 L284.93 648.71 L281.48 650.49 L278.03 652.28 L274.59 654.06 L271.14 655.84 L267.69 657.62 L264.24 659.4 L260.79 661.18 L257.34 662.97 L253.89 664.75 L250.44 666.53 L246.99 668.31 L243.54 670.09 L240.1 671.87 L236.65 673.66 L234.91 674.55" fill="none" stroke="#0070C0" stroke-width="2.4"/>
<polygon points="226.3,679 233.77,668.61 239.09,678.92" fill="#0070C0"/>
<text x="56.65" y="471.9" font-family="Liberation Serif" font-size="19.4" text-anchor="middle" fill="#000">Grazing</text>
<text x="56.65" y="494.8" font-family="Liberation Serif" font-size="19.4" text-anchor="middle" fill="#000">intensity</text>
<text x="225.45" y="471.9" font-family="Liberation Serif" font-size="19.4" text-anchor="middle" fill="#000">Species</text>
<text x="225.45" y="494.8" font-family="Liberation Serif" font-size="19.4" text-anchor="middle" fill="#000">richness</text>
<text x="394.75" y="471.9" font-family="Liberation Serif" font-size="19.4" text-anchor="middle" fill="#000">Fertilization</text>
<text x="394.75" y="494.8" font-family="Liberation Serif" font-size="19.4" text-anchor="middle" fill="#000">intensity</text>
<text x="56.55" y="584.1" font-family="Liberation Serif" font-size="19.4" text-anchor="middle" fill="#000">Soil C:N</text>
<text x="225.7" y="584" font-family="Liberation Serif" font-size="19.4" text-anchor="middle" fill="#000">Soil water</text>
<text x="394.8" y="584.1" font-family="Liberation Serif" font-size="19.4" text-anchor="middle" fill="#000">Soil OC</text>
<text x="226.05" y="700.5" font-family="Liberation Serif" font-size="19.4" text-anchor="middle" fill="#000">Soil respiration</text>
<text x="226.05" y="723.8" font-family="Liberation Serif" font-size="19.4" text-anchor="middle" fill="#000">(R<tspan font-size="13" dy="-7">2</tspan><tspan dy="7">=0.29)</tspan></text>
<text transform="translate(197.5 442.4) scale(1 0.94)" font-family="Liberation Serif" font-size="19.0" fill="#FF6A74">-<tspan font-weight="bold">.14*</tspan></text>
<text transform="translate(281.6 469.8) scale(1 0.94)" font-family="Liberation Serif" font-size="19.0" fill="#FF6A74">-<tspan font-weight="bold">.43***</tspan></text>
<text transform="translate(117.4 524.9) scale(1 0.94)" font-family="Liberation Serif" font-size="19.0" fill="#0070C0">+<tspan font-weight="bold">.33**</tspan></text>
<text transform="translate(289.2 523.4) scale(1 0.94)" font-family="Liberation Serif" font-size="19.0" fill="#FF6A74">-<tspan font-weight="bold">.36**</tspan></text>
<text transform="translate(400.4 539) scale(1 0.94)" font-family="Liberation Serif" font-size="19.0" fill="#FF6A74">-<tspan font-weight="bold">.21**</tspan></text>
<text transform="translate(120.7 560.5) scale(1 0.94)" font-family="Liberation Serif" font-size="19.0" fill="#FF6A74">-<tspan font-weight="bold">.33**</tspan></text>
<text transform="translate(287.3 561.6) scale(1 0.94)" font-family="Liberation Serif" font-size="19.0" fill="#0070C0">+<tspan font-weight="bold">.13*</tspan></text>
<text transform="translate(91.6 654) scale(1 0.94)" font-family="Liberation Serif" font-size="19.0" fill="#FF6A74">-<tspan font-weight="bold">.33***</tspan></text>
<text transform="translate(228.2 634.9) scale(1 0.94)" font-family="Liberation Serif" font-size="19.0" fill="#0070C0">+<tspan font-weight="bold">.25*</tspan></text>
<text transform="translate(298.2 654) scale(1 0.94)" font-family="Liberation Serif" font-size="19.0" fill="#0070C0">+<tspan font-weight="bold">.20**</tspan></text>
<rect x="537.6" y="3.9" width="21.7" height="21.5" fill="#0070C0" stroke="#333" stroke-width="0.8"/>
<rect x="537.6" y="33.2" width="21.7" height="21.2" fill="#FF6A74" stroke="#333" stroke-width="0.8"/>
<text x="566" y="20.9" font-family="Liberation Sans" font-size="16.2" fill="#000">Positive</text>
<text x="566" y="49.7" font-family="Liberation Sans" font-size="16.2" fill="#000">Negative</text>
<rect x="525.6" y="72.0" width="155.1" height="280.3" fill="#EBEBEB"/>
<line x1="525.6" x2="680.7" y1="116.88" y2="116.88" stroke="#fff" stroke-width="0.55"/>
<line x1="525.6" x2="680.7" y1="180.62" y2="180.62" stroke="#fff" stroke-width="0.55"/>
<line x1="525.6" x2="680.7" y1="244.38" y2="244.38" stroke="#fff" stroke-width="0.55"/>
<line x1="525.6" x2="680.7" y1="308.12" y2="308.12" stroke="#fff" stroke-width="0.55"/>
<line x1="525.6" x2="680.7" y1="85" y2="85" stroke="#fff" stroke-width="1.1"/>
<line x1="525.6" x2="680.7" y1="148.75" y2="148.75" stroke="#fff" stroke-width="1.1"/>
<line x1="525.6" x2="680.7" y1="212.5" y2="212.5" stroke="#fff" stroke-width="1.1"/>
<line x1="525.6" x2="680.7" y1="276.25" y2="276.25" stroke="#fff" stroke-width="1.1"/>
<line x1="525.6" x2="680.7" y1="340" y2="340" stroke="#fff" stroke-width="1.1"/>
<line x1="555" x2="555" y1="72.0" y2="352.3" stroke="#fff" stroke-width="1.1"/>
<line x1="603.5" x2="603.5" y1="72.0" y2="352.3" stroke="#fff" stroke-width="1.1"/>
<line x1="652.2" x2="652.2" y1="72.0" y2="352.3" stroke="#fff" stroke-width="1.1"/>
<line x1="533" x2="577" y1="212.5" y2="212.5" stroke="#333" stroke-width="1"/>
<rect x="581.5" y="212.5" width="44" height="58.78" fill="#FF6A74" stroke="#222" stroke-width="0.8"/>
<rect x="630.2" y="186.49" width="44" height="26.01" fill="#0070C0" stroke="#222" stroke-width="0.8"/>
<text x="651.8" y="183.6" font-family="Liberation Sans" font-size="22.5" stroke="#000" stroke-width="0.4" text-anchor="middle" fill="#000">*</text>
<text x="603.3" y="289" font-family="Liberation Sans" font-size="22.5" stroke="#000" stroke-width="0.4" text-anchor="middle" fill="#000">*</text>
<line x1="525.6" x2="525.6" y1="72.0" y2="352.8" stroke="#1a1a1a" stroke-width="1.1"/>
<line x1="525.1" x2="680.7" y1="352.3" y2="352.3" stroke="#1a1a1a" stroke-width="1.1"/>
<rect x="522.6" y="84.4" width="3" height="1.2" fill="#333"/>
<text x="520.3" y="90.7" font-family="Liberation Sans" font-size="16" text-anchor="end" fill="#000">0.2</text>
<rect x="522.6" y="148.15" width="3" height="1.2" fill="#333"/>
<text x="520.3" y="154.45" font-family="Liberation Sans" font-size="16" text-anchor="end" fill="#000">0.1</text>
<rect x="522.6" y="211.9" width="3" height="1.2" fill="#333"/>
<text x="520.3" y="218.2" font-family="Liberation Sans" font-size="16" text-anchor="end" fill="#000">0.0</text>
<rect x="522.6" y="275.65" width="3" height="1.2" fill="#333"/>
<text x="520.3" y="281.95" font-family="Liberation Sans" font-size="16" text-anchor="end" fill="#000">-0.1</text>
<rect x="522.6" y="339.4" width="3" height="1.2" fill="#333"/>
<text x="520.3" y="345.7" font-family="Liberation Sans" font-size="16" text-anchor="end" fill="#000">-0.2</text>
<rect x="554.4" y="352.3" width="1.2" height="3" fill="#333"/>
<rect x="602.9" y="352.3" width="1.2" height="3" fill="#333"/>
<rect x="651.6" y="352.3" width="1.2" height="3" fill="#333"/>
<text x="675.6" y="88.6" font-family="Liberation Sans" font-weight="bold" font-size="15.5" text-anchor="end" fill="#000">(b)</text>
<text transform="translate(468.2 214.65) rotate(-90)" font-family="Liberation Sans" font-size="16.6" text-anchor="middle" fill="#000">Net effect on soil respiration</text>
<text transform="translate(486 210.15) rotate(-90)" font-family="Liberation Sans" font-size="16.4" text-anchor="middle" fill="#000">(2018)</text>
<rect x="525.6" y="367.0" width="155.1" height="260.7" fill="#EBEBEB"/>
<line x1="525.6" x2="680.7" y1="408" y2="408" stroke="#fff" stroke-width="0.55"/>
<line x1="525.6" x2="680.7" y1="467.4" y2="467.4" stroke="#fff" stroke-width="0.55"/>
<line x1="525.6" x2="680.7" y1="526.8" y2="526.8" stroke="#fff" stroke-width="0.55"/>
<line x1="525.6" x2="680.7" y1="586.2" y2="586.2" stroke="#fff" stroke-width="0.55"/>
<line x1="525.6" x2="680.7" y1="378.3" y2="378.3" stroke="#fff" stroke-width="1.1"/>
<line x1="525.6" x2="680.7" y1="437.7" y2="437.7" stroke="#fff" stroke-width="1.1"/>
<line x1="525.6" x2="680.7" y1="497.1" y2="497.1" stroke="#fff" stroke-width="1.1"/>
<line x1="525.6" x2="680.7" y1="556.5" y2="556.5" stroke="#fff" stroke-width="1.1"/>
<line x1="525.6" x2="680.7" y1="615.9" y2="615.9" stroke="#fff" stroke-width="1.1"/>
<line x1="555" x2="555" y1="367.0" y2="627.7" stroke="#fff" stroke-width="1.1"/>
<line x1="603.5" x2="603.5" y1="367.0" y2="627.7" stroke="#fff" stroke-width="1.1"/>
<line x1="652.2" x2="652.2" y1="367.0" y2="627.7" stroke="#fff" stroke-width="1.1"/>
<line x1="533" x2="577" y1="497.1" y2="497.1" stroke="#5a5a5a" stroke-width="1"/>
<rect x="581.5" y="497.1" width="44" height="107.28" fill="#FF6A74" stroke="#222" stroke-width="0.8"/>
<rect x="630.2" y="476.49" width="44" height="20.61" fill="#0070C0" stroke="#222" stroke-width="0.8"/>
<text x="652.2" y="473.5" font-family="Liberation Sans" font-size="23" text-anchor="middle" fill="#000">m</text>
<text x="603.3" y="622.9" font-family="Liberation Sans" font-size="22.5" stroke="#000" stroke-width="0.4" text-anchor="middle" fill="#000">***</text>
<line x1="525.6" x2="525.6" y1="367.0" y2="628.2" stroke="#1a1a1a" stroke-width="1.1"/>
<line x1="525.1" x2="680.7" y1="627.7" y2="627.7" stroke="#1a1a1a" stroke-width="1.1"/>
<rect x="522.6" y="377.7" width="3" height="1.2" fill="#333"/>
<text x="520.3" y="384" font-family="Liberation Sans" font-size="16" text-anchor="end" fill="#000">0.2</text>
<rect x="522.6" y="437.1" width="3" height="1.2" fill="#333"/>
<text x="520.3" y="443.4" font-family="Liberation Sans" font-size="16" text-anchor="end" fill="#000">0.1</text>
<rect x="522.6" y="496.5" width="3" height="1.2" fill="#333"/>
<text x="520.3" y="502.8" font-family="Liberation Sans" font-size="16" text-anchor="end" fill="#000">0.0</text>
<rect x="522.6" y="555.9" width="3" height="1.2" fill="#333"/>
<text x="520.3" y="562.2" font-family="Liberation Sans" font-size="16" text-anchor="end" fill="#000">-0.1</text>
<rect x="522.6" y="615.3" width="3" height="1.2" fill="#333"/>
<text x="520.3" y="621.6" font-family="Liberation Sans" font-size="16" text-anchor="end" fill="#000">-0.2</text>
<rect x="554.4" y="627.7" width="1.2" height="3" fill="#333"/>
<rect x="602.9" y="627.7" width="1.2" height="3" fill="#333"/>
<rect x="651.6" y="627.7" width="1.2" height="3" fill="#333"/>
<text x="675.6" y="383.6" font-family="Liberation Sans" font-weight="bold" font-size="15.5" text-anchor="end" fill="#000">(d)</text>
<text transform="translate(468.2 499.85) rotate(-90)" font-family="Liberation Sans" font-size="16.6" text-anchor="middle" fill="#000">Net effect on soil respiration</text>
<text transform="translate(486 494.35) rotate(-90)" font-family="Liberation Sans" font-size="16.4" text-anchor="middle" fill="#000">(2019)</text>
<text transform="translate(552.9 666.9) rotate(-40)" font-family="Liberation Sans" font-size="16.5" text-anchor="middle" dominant-baseline="central" fill="#000">Grazing</text>
<text transform="translate(596.6 671.8) rotate(-40)" font-family="Liberation Sans" font-size="16.5" text-anchor="middle" dominant-baseline="central" fill="#000">Species richness</text>
<text transform="translate(647.7 668.8) rotate(-40)" font-family="Liberation Sans" font-size="16.5" text-anchor="middle" dominant-baseline="central" fill="#000">Fertilization</text>
</svg>
</body></html>
